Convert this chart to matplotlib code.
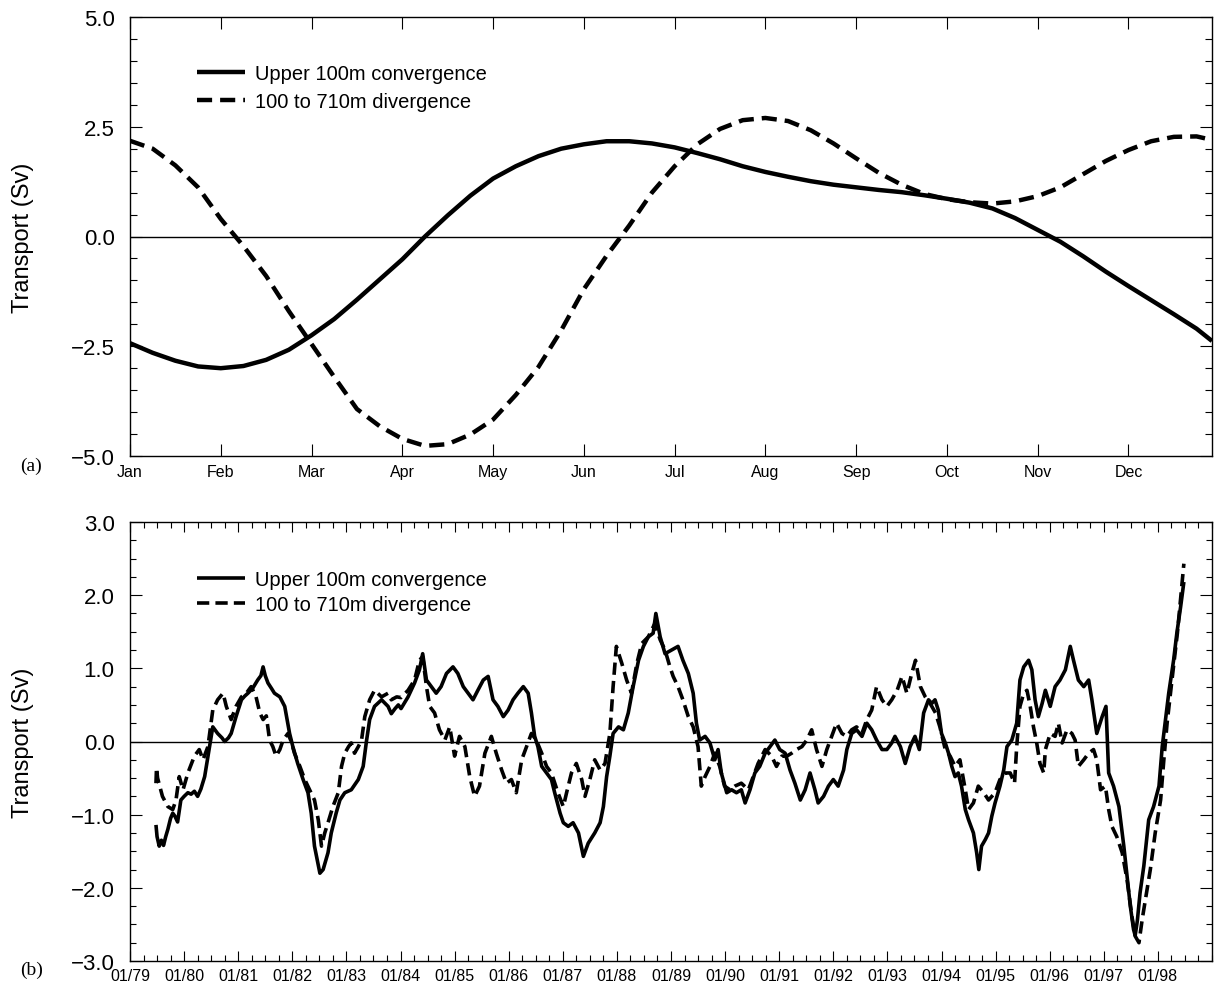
import numpy as np
import matplotlib
matplotlib.use("Agg")
import matplotlib.pyplot as plt
from matplotlib.ticker import MultipleLocator

plt.rcParams['font.family'] = ['Liberation Sans', 'DejaVu Sans']

# ---------------- Panel (a): climatological seasonal cycle ----------------
month_labels = ['Jan', 'Feb', 'Mar', 'Apr', 'May', 'Jun', 'Jul', 'Aug', 'Sep', 'Oct', 'Nov', 'Dec']
a_month = [0, 0.25, 0.5, 0.75, 1.0, 1.25, 1.5, 1.75, 2.0, 2.25, 2.5, 2.75, 3.0, 3.25, 3.5, 3.75,
           4.0, 4.25, 4.5, 4.75, 5.0, 5.25, 5.5, 5.75, 6.0, 6.25, 6.5, 6.75, 7.0, 7.25, 7.5, 7.75,
           8.0, 8.25, 8.5, 8.75, 9.0, 9.25, 9.5, 9.75, 10.0, 10.25, 10.5, 10.75, 11.0, 11.25, 11.5,
           11.75, 11.92]
a_upper = [-2.43, -2.65, -2.83, -2.96, -3.0, -2.95, -2.81, -2.58, -2.25, -1.88, -1.44, -0.98, -0.52,
           0.0, 0.48, 0.93, 1.32, 1.6, 1.83, 2.0, 2.1, 2.17, 2.17, 2.12, 2.03, 1.9, 1.76, 1.6, 1.47,
           1.36, 1.26, 1.18, 1.12, 1.06, 1.01, 0.94, 0.86, 0.77, 0.64, 0.42, 0.15, -0.12, -0.45,
           -0.8, -1.13, -1.45, -1.77, -2.1, -2.38]
a_deep = [2.18, 2.0, 1.62, 1.12, 0.4, -0.22, -0.9, -1.7, -2.45, -3.2, -3.93, -4.32, -4.61, -4.77,
          -4.73, -4.51, -4.17, -3.61, -2.97, -2.14, -1.2, -0.44, 0.25, 1.0, 1.6, 2.1, 2.45, 2.65,
          2.7, 2.63, 2.42, 2.12, 1.78, 1.45, 1.18, 0.97, 0.85, 0.78, 0.75, 0.8, 0.92, 1.12, 1.42,
          1.72, 1.97, 2.17, 2.27, 2.28, 2.2]

# ---------------- Panel (b): 1979-1998 time series ----------------
b_upper_t = [1979.48, 1979.50, 1979.54, 1979.58, 1979.62, 1979.66, 1979.70, 1979.75, 1979.79,
             1979.83, 1979.88, 1979.94, 1980.00, 1980.07, 1980.13, 1980.19, 1980.25, 1980.31,
             1980.38, 1980.47, 1980.53, 1980.58, 1980.62, 1980.70, 1980.75, 1980.82, 1980.87,
             1980.96, 1981.06, 1981.12, 1981.18, 1981.27, 1981.36, 1981.42, 1981.46, 1981.50,
             1981.55, 1981.62, 1981.67, 1981.77, 1981.86, 1981.95, 1982.01, 1982.10, 1982.20,
             1982.29, 1982.35, 1982.41, 1982.47, 1982.51, 1982.57, 1982.66, 1982.72, 1982.81,
             1982.88, 1982.97, 1983.09, 1983.22, 1983.31, 1983.37, 1983.43, 1983.52, 1983.65,
             1983.77, 1983.83, 1983.90, 1983.96,
             1984.01, 1984.14, 1984.26, 1984.35, 1984.41, 1984.48, 1984.57, 1984.66, 1984.75,
             1984.85, 1984.97, 1985.06, 1985.16, 1985.25, 1985.34, 1985.43, 1985.53, 1985.62,
             1985.71, 1985.80, 1985.90, 1985.99, 1986.08, 1986.17, 1986.27, 1986.36, 1986.42,
             1986.48, 1986.54, 1986.61, 1986.70, 1986.79, 1986.85, 1986.95, 1987.01, 1987.10,
             1987.19, 1987.29, 1987.38, 1987.47, 1987.59, 1987.69, 1987.75, 1987.81, 1987.87,
             1987.93, 1988.03, 1988.12, 1988.21, 1988.30, 1988.40, 1988.49, 1988.58, 1988.67,
             1988.72, 1988.80, 1988.89,
             1989.01, 1989.13, 1989.22, 1989.32, 1989.41, 1989.47, 1989.53, 1989.63, 1989.72,
             1989.81, 1989.87, 1989.93, 1990.03, 1990.12, 1990.21, 1990.30, 1990.37, 1990.46,
             1990.55, 1990.64, 1990.74, 1990.83, 1990.92, 1991.01, 1991.11, 1991.20, 1991.29,
             1991.39, 1991.48, 1991.57, 1991.66, 1991.72, 1991.82, 1991.91, 1992.00, 1992.09,
             1992.19, 1992.25, 1992.34, 1992.43, 1992.53, 1992.62, 1992.71, 1992.80, 1992.90,
             1992.99, 1993.08, 1993.14, 1993.24, 1993.33, 1993.42, 1993.51, 1993.59, 1993.67,
             1993.76, 1993.82, 1993.88, 1993.94,
             1994.00, 1994.07, 1994.13, 1994.19, 1994.25, 1994.31, 1994.37, 1994.44, 1994.50,
             1994.59, 1994.65, 1994.69, 1994.74, 1994.81, 1994.87, 1994.93, 1994.99, 1995.08,
             1995.15, 1995.21, 1995.30, 1995.39, 1995.45, 1995.52, 1995.61, 1995.67, 1995.73,
             1995.79, 1995.86, 1995.92, 1996.01, 1996.10, 1996.19, 1996.29, 1996.38, 1996.44,
             1996.53, 1996.63, 1996.72, 1996.78, 1996.87, 1996.97, 1997.04, 1997.09, 1997.18,
             1997.28, 1997.37, 1997.43, 1997.49, 1997.55, 1997.58, 1997.62, 1997.67, 1997.74,
             1997.83, 1997.92, 1998.02, 1998.08, 1998.14, 1998.20, 1998.29, 1998.35, 1998.42,
             1998.48]
b_upper_v = [-1.14, -1.30, -1.43, -1.35, -1.42, -1.30, -1.20, -1.05, -0.98,
             -1.02, -1.10, -0.80, -0.75, -0.70, -0.72, -0.68, -0.75, -0.65,
             -0.48, -0.07, 0.20, 0.15, 0.11, 0.05, 0.00, 0.05, 0.11,
             0.34, 0.57, 0.62, 0.66, 0.73, 0.84, 0.90, 1.02, 0.90,
             0.80, 0.72, 0.66, 0.61, 0.48, 0.11, -0.07, -0.30, -0.52,
             -0.70, -0.98, -1.43, -1.65, -1.80, -1.75, -1.52, -1.25, -0.98,
             -0.80, -0.70, -0.66, -0.52, -0.34, 0.00, 0.30, 0.48, 0.57,
             0.48, 0.38, 0.45, 0.50,
             0.45, 0.61, 0.80, 0.98, 1.20, 0.84, 0.75, 0.66, 0.75,
             0.93, 1.02, 0.93, 0.75, 0.66, 0.57, 0.70, 0.84, 0.89,
             0.57, 0.48, 0.34, 0.43, 0.57, 0.66, 0.75, 0.66, 0.39,
             0.07, -0.07, -0.34, -0.43, -0.52, -0.70, -0.98, -1.11, -1.16,
             -1.11, -1.25, -1.57, -1.39, -1.25, -1.11, -0.89, -0.48, -0.20,
             0.11, 0.20, 0.16, 0.39, 0.75, 1.11, 1.30, 1.43, 1.48,
             1.75, 1.43, 1.20,
             1.25, 1.30, 1.11, 0.93, 0.66, 0.25, 0.02, 0.07, -0.02,
             -0.25, -0.11, -0.43, -0.70, -0.66, -0.70, -0.66, -0.84, -0.66,
             -0.43, -0.34, -0.16, -0.07, 0.02, -0.11, -0.16, -0.39, -0.57,
             -0.80, -0.66, -0.43, -0.66, -0.84, -0.75, -0.61, -0.52, -0.61,
             -0.39, -0.11, 0.11, 0.16, 0.07, 0.25, 0.16, 0.02, -0.11,
             -0.11, -0.02, 0.07, -0.07, -0.30, -0.07, 0.07, -0.11, 0.39,
             0.57, 0.52, 0.57, 0.43,
             0.11, -0.02, -0.16, -0.34, -0.48, -0.43, -0.61, -0.93, -1.07,
             -1.25, -1.52, -1.75, -1.43, -1.34, -1.25, -1.02, -0.84, -0.61,
             -0.39, -0.07, 0.02, 0.25, 0.84, 1.02, 1.11, 0.98, 0.57,
             0.34, 0.52, 0.70, 0.48, 0.75, 0.84, 0.98, 1.30, 1.11,
             0.84, 0.75, 0.84, 0.57, 0.11, 0.34, 0.48, -0.43, -0.61,
             -0.89, -1.43, -1.84, -2.25, -2.57, -2.65, -2.45, -2.07, -1.70,
             -1.07, -0.89, -0.61, -0.07, 0.30, 0.66, 1.11, 1.48, 1.84,
             2.18]

b_deep_t = [1979.48, 1979.49, 1979.51, 1979.60, 1979.70, 1979.79, 1979.85, 1979.91, 1979.98,
            1980.07, 1980.19, 1980.28, 1980.35, 1980.44, 1980.53, 1980.62, 1980.72, 1980.78,
            1980.87, 1980.96, 1981.06, 1981.15, 1981.24, 1981.33, 1981.40, 1981.46, 1981.52,
            1981.58, 1981.64, 1981.70, 1981.77, 1981.83, 1981.92, 1981.98, 1982.04, 1982.14,
            1982.23, 1982.32, 1982.41, 1982.48, 1982.54, 1982.60, 1982.66, 1982.75, 1982.85,
            1982.91, 1982.97, 1983.04, 1983.09, 1983.15, 1983.22, 1983.28, 1983.34, 1983.43,
            1983.52, 1983.65, 1983.77, 1983.83, 1983.93,
            1984.01, 1984.14, 1984.26, 1984.35, 1984.41, 1984.48, 1984.54, 1984.63, 1984.72,
            1984.82, 1984.91, 1985.00, 1985.09, 1985.19, 1985.28, 1985.37, 1985.46, 1985.56,
            1985.68, 1985.77, 1985.87, 1985.96, 1986.05, 1986.14, 1986.24, 1986.33, 1986.42,
            1986.51, 1986.61, 1986.70, 1986.79, 1986.91, 1987.01, 1987.07, 1987.16, 1987.25,
            1987.35, 1987.41, 1987.50, 1987.59, 1987.69, 1987.78, 1987.87, 1987.93, 1987.99,
            1988.09, 1988.18, 1988.27, 1988.37, 1988.46, 1988.58, 1988.70, 1988.80, 1988.89,
            1988.98, 1989.04, 1989.13, 1989.22, 1989.32, 1989.41, 1989.50, 1989.56, 1989.63,
            1989.72, 1989.81, 1989.90, 1989.99, 1990.09, 1990.18, 1990.30, 1990.43, 1990.52,
            1990.61, 1990.74, 1990.86, 1990.95, 1991.05, 1991.14, 1991.23, 1991.32, 1991.42,
            1991.51, 1991.60, 1991.69, 1991.79, 1991.88, 1991.97, 1992.06, 1992.16, 1992.25,
            1992.34, 1992.43, 1992.53, 1992.62, 1992.71, 1992.80, 1992.90, 1992.99, 1993.08,
            1993.18, 1993.27, 1993.36, 1993.45, 1993.52, 1993.61, 1993.70, 1993.79, 1993.89,
            1993.97, 1994.07, 1994.16, 1994.25, 1994.34, 1994.44, 1994.50, 1994.59, 1994.68,
            1994.78, 1994.87, 1994.99, 1995.08, 1995.18, 1995.27, 1995.35, 1995.39, 1995.45,
            1995.52, 1995.58, 1995.64, 1995.70, 1995.76, 1995.82, 1995.89, 1995.92, 1996.01,
            1996.10, 1996.16, 1996.23, 1996.32, 1996.41, 1996.47, 1996.53, 1996.63, 1996.72,
            1996.81, 1996.87, 1996.94, 1997.03, 1997.09, 1997.15, 1997.24, 1997.34, 1997.43,
            1997.52, 1997.58, 1997.65, 1997.71, 1997.77, 1997.86, 1997.95, 1998.05, 1998.11,
            1998.17, 1998.26, 1998.36, 1998.44, 1998.48]
b_deep_v = [-0.57, -0.36, -0.50, -0.75, -0.89, -0.93, -0.80, -0.48, -0.66,
            -0.43, -0.20, -0.11, -0.25, -0.07, 0.43, 0.57, 0.66, 0.48,
            0.30, 0.48, 0.61, 0.66, 0.75, 0.61, 0.39, 0.30, 0.35,
            0.02, -0.07, -0.20, -0.11, 0.02, 0.11, 0.00, -0.16, -0.34,
            -0.52, -0.66, -0.80, -1.07, -1.43, -1.25, -1.11, -0.89, -0.70,
            -0.34, -0.16, -0.07, -0.02, -0.16, -0.07, 0.02, 0.34, 0.57,
            0.70, 0.61, 0.66, 0.57, 0.61,
            0.60, 0.70, 0.84, 1.11, 1.16, 0.75, 0.48, 0.39, 0.16,
            0.02, 0.20, -0.20, 0.07, -0.07, -0.48, -0.75, -0.61, -0.16,
            0.07, -0.16, -0.39, -0.57, -0.52, -0.70, -0.25, -0.07, 0.11,
            0.02, -0.16, -0.34, -0.43, -0.70, -0.89, -0.70, -0.43, -0.30,
            -0.52, -0.75, -0.52, -0.25, -0.39, -0.30, 0.11, 0.75, 1.30,
            1.07, 0.84, 0.66, 1.07, 1.34, 1.43, 1.61, 1.39, 1.25,
            1.02, 0.89, 0.75, 0.57, 0.34, 0.20, -0.07, -0.61, -0.48,
            -0.34, -0.16, -0.34, -0.61, -0.66, -0.61, -0.57, -0.66, -0.48,
            -0.30, -0.11, -0.20, -0.34, -0.20, -0.20, -0.16, -0.11, -0.07,
            0.02, 0.16, -0.11, -0.34, -0.11, 0.07, 0.25, 0.11, 0.07,
            0.16, 0.20, 0.11, 0.30, 0.43, 0.75, 0.57, 0.48, 0.57,
            0.70, 0.89, 0.66, 0.93, 1.11, 0.75, 0.61, 0.52, 0.39,
            0.20, -0.11, -0.20, -0.34, -0.25, -0.66, -0.93, -0.84, -0.61,
            -0.70, -0.80, -0.70, -0.52, -0.43, -0.43, -0.57, -0.07, 0.48,
            0.66, 0.70, 0.48, 0.20, -0.02, -0.30, -0.43, -0.11, 0.11,
            0.07, 0.25, -0.02, 0.16, 0.11, 0.02, -0.34, -0.25, -0.16,
            -0.11, -0.25, -0.66, -0.61, -0.93, -1.16, -1.30, -1.52, -1.89,
            -2.39, -2.66, -2.75, -2.43, -2.16, -1.75, -1.25, -0.80, -0.25,
            0.25, 0.84, 1.48, 2.11, 2.43]

year_labels = ['01/%02d' % (y % 100) for y in range(1979, 1999)]
legend_labels = ['Upper 100m convergence', '100 to 710m divergence']

# ---------------- Figure ----------------
W, H = 1214, 995
fig = plt.figure(figsize=(W / 100, H / 100), dpi=100)

def frac(x0, y0, x1, y1):
    return [x0 / W, 1 - y1 / H, (x1 - x0) / W, (y1 - y0) / H]

ax1 = fig.add_axes(frac(130, 18, 1212, 457))
ax2 = fig.add_axes(frac(130, 523, 1212, 962))

for ax in (ax1, ax2):
    for s in ax.spines.values():
        s.set_linewidth(1.0)
    ax.tick_params(which='both', direction='in', top=True, right=True, width=0.8, colors='black')
    ax.axhline(0, color='black', lw=1.0, zorder=1)
    ax.set_ylabel('Transport (Sv)', fontsize=17)
    ax.yaxis.set_label_coords(-0.0885, 0.5)

# Panel a
ax1.plot(a_month, a_upper, color='black', lw=3.2, solid_capstyle='butt', label=legend_labels[0])
ax1.plot(a_month, a_deep, color='black', lw=3.2, dashes=(3.4, 1.8), dash_capstyle='butt',
         label=legend_labels[1])
ax1.set_xlim(0, 11.92)
ax1.set_ylim(-5, 5)
ax1.set_xticks(range(12))
ax1.set_xticklabels(month_labels, fontsize=11.5)
ax1.set_yticks([-5, -2.5, 0, 2.5, 5])
ax1.set_yticklabels(['\u22125.0', '\u22122.5', '0.0', '2.5', '5.0'], fontsize=16)
ax1.yaxis.set_minor_locator(MultipleLocator(0.5))
ax1.tick_params(axis='both', which='major', length=8.5)
ax1.tick_params(axis='both', which='minor', length=5)
ax1.tick_params(axis='x', pad=6)
ax1.tick_params(axis='y', pad=11)
ax1.legend(loc='upper left', bbox_to_anchor=(0.062, 0.893), frameon=False, fontsize=14.5,
           handlelength=2.4, handletextpad=0.5, labelspacing=0.45, borderpad=0, borderaxespad=0)

# Panel b
ax2.plot(b_upper_t, b_upper_v, color='black', lw=2.6, solid_capstyle='butt', label=legend_labels[0])
ax2.plot(b_deep_t, b_deep_v, color='black', lw=2.6, dashes=(3.4, 1.7), dash_capstyle='butt',
         label=legend_labels[1])
ax2.set_xlim(1979, 1999)
ax2.set_ylim(-3, 3)
ax2.set_xticks(range(1979, 1999))
ax2.set_xticklabels(year_labels, fontsize=11.5)
ax2.xaxis.set_minor_locator(MultipleLocator(0.25))
ax2.set_yticks([-3, -2, -1, 0, 1, 2, 3])
ax2.set_yticklabels(['\u22123.0', '\u22122.0', '\u22121.0', '0.0', '1.0', '2.0', '3.0'], fontsize=16)
ax2.yaxis.set_minor_locator(MultipleLocator(0.25))
ax2.tick_params(axis='x', which='major', length=7)
ax2.tick_params(axis='x', which='minor', length=4)
ax2.tick_params(axis='y', which='major', length=8.5)
ax2.tick_params(axis='y', which='minor', length=4)
ax2.tick_params(axis='x', pad=5)
ax2.tick_params(axis='y', pad=11)
ax2.legend(loc='upper left', bbox_to_anchor=(0.062, 0.89), frameon=False, fontsize=14.5,
           handlelength=2.4, handletextpad=0.5, labelspacing=0.3, borderpad=0, borderaxespad=0)

fig.text(20 / W, 1 - 466 / H, '(a)', family='Liberation Serif', fontsize=14, va='center', ha='left')
fig.text(20 / W, 1 - 970 / H, '(b)', family='Liberation Serif', fontsize=14, va='center', ha='left')

fig.savefig('out.png', dpi=100)
